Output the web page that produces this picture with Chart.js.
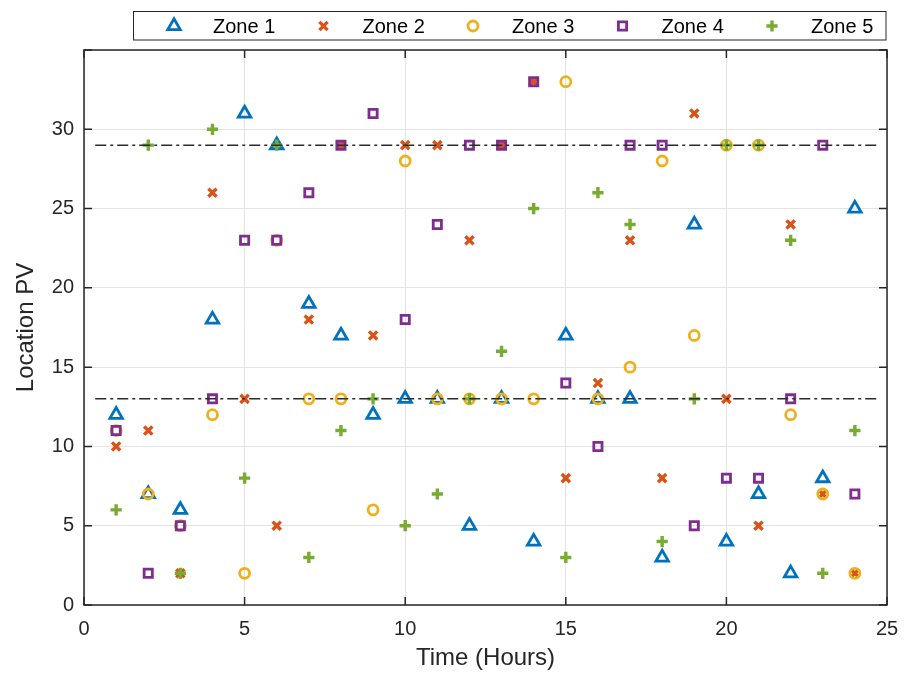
<!DOCTYPE html>
<html>
<head>
<meta charset="utf-8">
<script src="https://cdn.jsdelivr.net/npm/chart.js@4/dist/chart.umd.min.js"></script>
<style>
  html, body { margin: 0; padding: 0; background: #fff; }
  #wrap { width: 904px; height: 675px; }
</style>
</head>
<body>
<div id="wrap"><canvas id="pvChart" width="904" height="675"></canvas></div>
<script>
const hours = [1, 2, 3, 4, 5, 6, 7, 8, 9, 10, 11, 12, 13, 14, 15, 16, 17, 18, 19, 20, 21, 22, 23, 24];
const zone1 = [12, 7, 6, 18, 31, 29, 19, 17, 12, 13, 13, 5, 13, 4, 17, 13, 13, 3, 24, 4, 7, 2, 8, 25];
const zone2 = [10, 11, 2, 26, 13, 5, 18, 29, 17, 29, 29, 23, 29, 33, 8, 14, 23, 8, 31, 13, 5, 24, 7, 2];
const zone3 = [11, 7, 5, 12, 2, 23, 13, 13, 6, 28, 13, 13, 13, 13, 33, 13, 15, 28, 17, 29, 29, 12, 7, 2];
const zone4 = [11, 2, 5, 13, 23, 23, 26, 29, 31, 18, 24, 29, 29, 33, 14, 10, 29, 29, 5, 8, 8, 13, 29, 7];
const zone5 = [6, 29, 2, 30, 8, 29, 3, 11, 13, 5, 7, 13, 16, 25, 3, 26, 24, 4, 13, 29, 29, 23, 2, 11];
const limits = [13, 29];
const limitSpan = [0.35, 24.7];
const xTicks = [0, 5, 10, 15, 20, 25];
const yTicks = [0, 5, 10, 15, 20, 25, 30, 35];

const zoneNames = ['Zone 1', 'Zone 2', 'Zone 3', 'Zone 4', 'Zone 5'];
const zoneValues = [zone1, zone2, zone3, zone4, zone5];
const zoneColors = ['#0072BD', '#D95319', '#EDB120', '#7E2F8E', '#77AC30'];
const zoneStyles = ['triangle', 'crossRot', 'circle', 'rect', 'cross'];
const zoneRadius = [7.2, 5.8, 5, 5.8, 5.6];
const zoneWidth = [2.8, 3.4, 2.8, 2.8, 3.4];

function toPoints(values) {
  return values.map((v, i) => ({ x: hours[i], y: v }));
}

const datasets = zoneNames.map((name, i) => ({
  label: name,
  data: toPoints(zoneValues[i]),
  pointStyle: zoneStyles[i],
  pointRadius: zoneRadius[i],
  pointHoverRadius: zoneRadius[i],
  pointBorderWidth: zoneWidth[i],
  borderColor: zoneColors[i],
  backgroundColor: 'rgba(0,0,0,0)',
  order: 6 - i
}));

limits.forEach(level => {
  datasets.push({
    type: 'line',
    label: 'limit ' + level,
    data: limitSpan.map(x => ({ x: x, y: level })),
    borderColor: '#2b2b2b',
    borderWidth: 1.5,
    borderDash: [11, 4, 3, 4],
    pointRadius: 0,
    fill: false,
    order: 0
  });
});

// axes box, inward ticks and the boxed legend, MATLAB style
const boxPlugin = {
  id: 'boxPlugin',
  afterDraw(chart) {
    const ctx = chart.ctx;
    const a = chart.chartArea;
    const xs = chart.scales.x;
    const ys = chart.scales.y;
    ctx.save();
    ctx.strokeStyle = '#262626';
    ctx.lineWidth = 1.5;
    ctx.strokeRect(a.left, a.top, a.right - a.left, a.bottom - a.top);
    const tl = 8;
    ctx.beginPath();
    xTicks.forEach(t => {
      const px = xs.getPixelForValue(t);
      ctx.moveTo(px, a.bottom); ctx.lineTo(px, a.bottom - tl);
      ctx.moveTo(px, a.top); ctx.lineTo(px, a.top + tl);
    });
    yTicks.forEach(t => {
      const py = ys.getPixelForValue(t);
      ctx.moveTo(a.left, py); ctx.lineTo(a.left + tl, py);
      ctx.moveTo(a.right, py); ctx.lineTo(a.right - tl, py);
    });
    ctx.stroke();

    // legend
    ctx.fillStyle = '#fff';
    ctx.fillRect(133.5, 11.5, 752.5, 28.5);
    ctx.strokeStyle = '#262626';
    ctx.lineWidth = 1;
    ctx.strokeRect(133.5, 11.5, 752.5, 28.5);
    ctx.font = '20px "Liberation Sans", Arial, sans-serif';
    ctx.textBaseline = 'middle';
    ctx.textAlign = 'left';
    zoneNames.forEach((name, i) => {
      const mx = 174 + i * 149.5;
      const my = 26;
      ctx.strokeStyle = zoneColors[i];
      ctx.fillStyle = 'rgba(0,0,0,0)';
      ctx.lineWidth = zoneWidth[i];
      if (Chart.helpers && Chart.helpers.drawPoint) {
        Chart.helpers.drawPoint(ctx, {
          pointStyle: zoneStyles[i],
          radius: zoneRadius[i],
          rotation: 0,
          borderWidth: zoneWidth[i]
        }, mx, my);
      }
      ctx.fillStyle = '#000';
      ctx.fillText(name, mx + 39, my + 1);
    });
    ctx.restore();
  }
};

new Chart(document.getElementById('pvChart'), {
  type: 'scatter',
  data: { datasets: datasets },
  options: {
    responsive: false,
    animation: false,
    layout: { padding: { top: 50, right: 17, left: 0, bottom: 0 } },
    plugins: {
      legend: { display: false },
      tooltip: { enabled: false }
    },
    scales: {
      x: {
        type: 'linear',
        min: 0,
        max: 25,
        afterFit(scale) {
          scale.height = 70;
          scale.paddingLeft = 0;
          scale.paddingRight = 0;
        },
        afterBuildTicks(scale) { scale.ticks = xTicks.map(v => ({ value: v })); },
        grid: { color: '#e3e3e3', lineWidth: 1, drawTicks: false },
        border: { display: false },
        ticks: {
          padding: 12,
          color: '#262626',
          font: { family: '"Liberation Sans", Arial, sans-serif', size: 20 }
        },
        title: {
          display: true,
          text: 'Time (Hours)',
          color: '#262626',
          padding: { top: 0, bottom: 2 },
          font: { family: '"Liberation Sans", Arial, sans-serif', size: 24 }
        }
      },
      y: {
        type: 'linear',
        min: 0,
        max: 35,
        afterFit(scale) { scale.width = 84; },
        afterBuildTicks(scale) { scale.ticks = yTicks.map(v => ({ value: v })); },
        grid: { color: '#e3e3e3', lineWidth: 1, drawTicks: false },
        border: { display: false },
        ticks: {
          padding: 10,
          color: '#262626',
          font: { family: '"Liberation Sans", Arial, sans-serif', size: 20 },
          callback: v => (v === 35 ? '' : v)
        },
        title: {
          display: true,
          text: 'Location PV',
          color: '#262626',
          padding: { top: 12, bottom: 0 },
          font: { family: '"Liberation Sans", Arial, sans-serif', size: 24 }
        }
      }
    }
  },
  plugins: [boxPlugin]
});
</script>
</body>
</html>
